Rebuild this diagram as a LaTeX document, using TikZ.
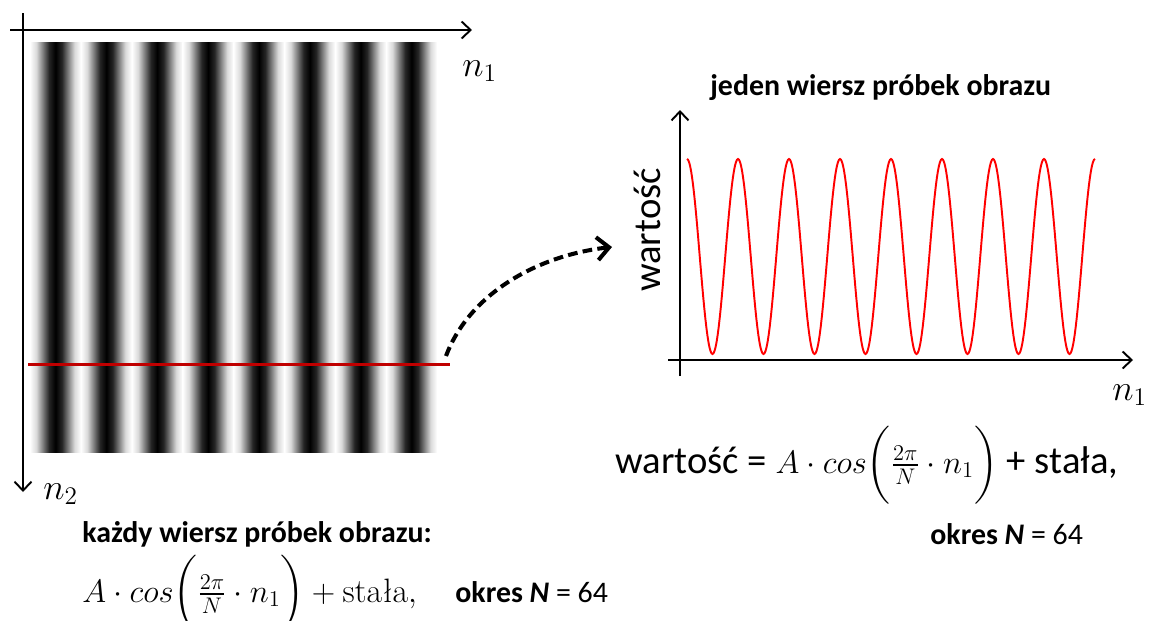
\documentclass[tikz,border=0pt]{standalone}
\usepackage{fontspec}
\usepackage{amsmath}
\usetikzlibrary{arrows.meta,calc}
\newfontfamily\calibri{Carlito}
\definecolor{rowred}{RGB}{192,0,0}
\definecolor{curvered}{RGB}{255,0,0}
\pgfdeclarehorizontalshading{stripeperiod}{100bp}{color(0bp)=(white); color(25bp)=(white);
  color(31.25bp)=(black!14.6); color(37.5bp)=(black!50); color(43.75bp)=(black!85.4);
  color(50bp)=(black); color(56.25bp)=(black!85.4); color(62.5bp)=(black!50);
  color(68.75bp)=(black!14.6); color(75bp)=(white); color(100bp)=(white)}
\newcommand{\rowcos}{\scalebox{1.07}{$A\cdot cos\biggl(\frac{2\pi}{N}\cdot n_1\biggr)$}}

\begin{document}
\begin{tikzpicture}[
    x=0.02cm, y=-0.02cm,
    axis/.style={line width=1.1pt, -{Straight Barb[length=1.8mm,width=3.4mm]}},
    headline/.style={font=\calibri\bfseries\fontsize{17}{20}\selectfont, inner sep=0pt, anchor=base west},
    axlabel/.style={font=\fontsize{22}{26}\selectfont, inner sep=0pt, anchor=base west},
    formula/.style={font=\fontsize{18}{22}\selectfont, inner sep=0pt, anchor=base west},
    period/.style={font=\calibri\fontsize{17}{20}\selectfont, inner sep=0pt, anchor=base west},
]
\useasboundingbox (0,0) rectangle (1149,620);

% Image with vertical stripes
\foreach \k in {0,...,7}
    \shade[shading=stripeperiod] ({30+\k*50.875},42) rectangle ({80.875+\k*50.875},452);

% Image axes
\coordinate (hstart) at (10,30);
\coordinate (hend) at (472,30);
\coordinate (vstart) at (23,13);
\coordinate (vend) at (23,492);
\draw[axis] (hstart) -- (hend);
\draw[axis] (vstart) -- (vend);
\node[axlabel] (imgn1) at (462,76) {$n_1$};
\node[axlabel] (imgn2) at (43,499) {$n_2$};

% Selected row
\coordinate (rowstart) at (28,364.5);
\coordinate (rowend) at (450,364.5);
\draw[rowred, line width=1.2pt] (rowstart) -- (rowend);

% Link to the plot
\coordinate (linkstart) at (446,356);
\coordinate (linkend) at (612,247);
\draw[line width=2.3pt, dash pattern=on 5.5pt off 3pt,
      -{Straight Barb[length=2.4mm,width=4.6mm,line width=2.3pt]}]
    (linkstart) .. controls (470,292) and (540,255) .. (linkend);

% Plot of one row
\node[headline] (rowtitle) at (710,95) {jeden wiersz próbek obrazu};
\coordinate (ystart) at (680,376);
\coordinate (yend) at (680,110);
\coordinate (xstart) at (668,360);
\coordinate (xend) at (1133,360);
\draw[axis] (ystart) -- (yend);
\draw[axis] (xstart) -- (xend);
\draw[curvered, line width=1.1pt] plot[domain=0:408, samples=401]
    ({687+\x}, {256.5-97.5*cos(7.0588*\x)});
\node[font=\calibri\fontsize{22}{26}\selectfont, rotate=90, inner sep=0pt] (ylabel) at (647,230) {wartość};
\node[axlabel] (plotn1) at (1112,400) {$n_1$};

% Formula under the plot
\node[font=\calibri\fontsize{22}{26}\selectfont, inner sep=0pt, anchor=base west] (rowformula) at (615,473)
    {wartość = {\fontsize{18}{22}\selectfont\rowcos} + stała,};
\node[period] (rowperiod) at (930,544) {\textbf{okres \textit{N}} = 64};

% Formula under the image
\node[headline] (imgtitle) at (82,542) {każdy wiersz próbek obrazu:};
\node[formula] (imgformula) at (82,602)
    {\scalebox{1.07}{$A\cdot cos\biggl(\frac{2\pi}{N}\cdot n_1\biggr)+\text{stała},$}};
\node[period] (imgperiod) at (455,602) {\textbf{okres \textit{N}} = 64};

\end{tikzpicture}
\end{document}
